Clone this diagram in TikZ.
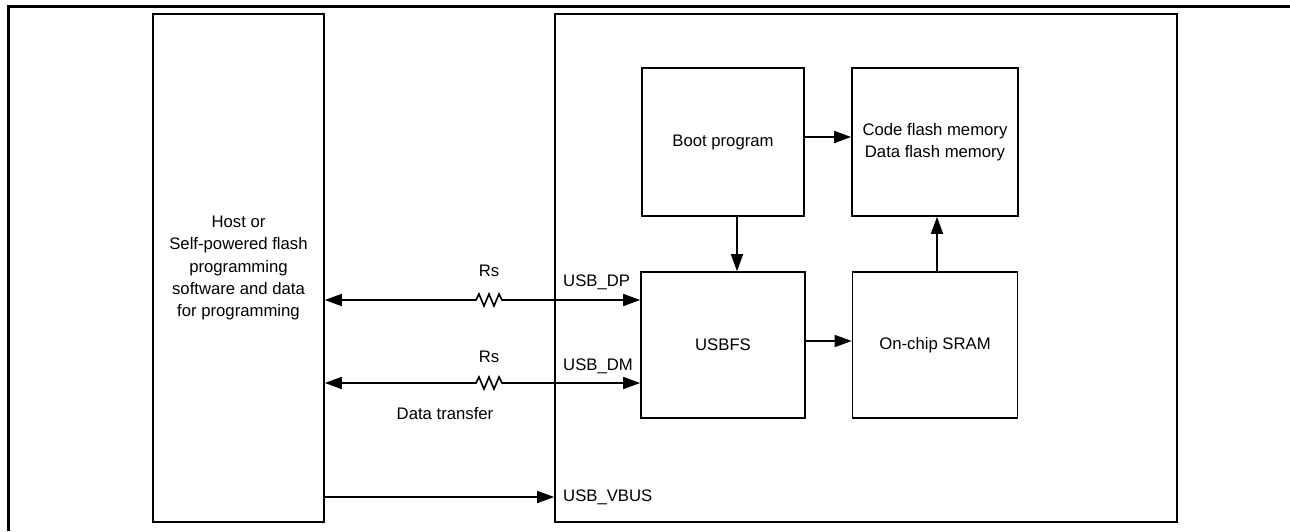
\documentclass[tikz,border=0pt]{standalone}
\usepackage{fontspec}
\setmainfont{Liberation Sans}
\usetikzlibrary{arrows.meta}

\begin{document}
\begin{tikzpicture}[x=1pt, y=-1pt, >={Triangle[length=17pt,width=12pt]},
    font=\fontsize{16.7}{22.3}\selectfont,
    box/.style={draw, line width=1.6pt, inner sep=0pt, align=center},
    wire/.style={line width=1.6pt},
    lbl/.style={inner sep=0pt}]

    \useasboundingbox (0,0) rectangle (1290,531);

    % =================================================================
    % 1. KHUNG NGOAI VA CAC TOA DO CHINH
    % =================================================================
    \draw[line width=3pt] (8.5,531) -- (8.5,6) -- (1290,6);

    \coordinate (DP) at (0,300);
    \coordinate (DM) at (0,383);
    \coordinate (VB) at (0,497);
    \coordinate (RsDP) at (476,300);
    \coordinate (RsDM) at (476,383);

    % =================================================================
    % 2. CAC KHOI
    % =================================================================
    \node[box, minimum width=171pt, minimum height=508pt] (host) at (238.5,268)
        {Host or\\Self-powered flash\\programming\\software and data\\for programming};
    \node[box, minimum width=622pt, minimum height=508pt] (chip) at (866,268) {};

    \node[box, minimum width=162pt, minimum height=148pt] (boot) at (723,142) {Boot program};
    \node[box, minimum width=166pt, minimum height=148pt] (flash) at (935,142)
        {Code flash memory\\Data flash memory};
    \node[box, minimum width=164pt, minimum height=146pt] (usbfs) at (723,345) {USBFS};
    \node[box, minimum width=165pt, minimum height=146pt] (sram) at (935,345) {On-chip SRAM};

    % =================================================================
    % 3. CAC MUI TEN BEN TRONG CHIP
    % =================================================================
    \draw[wire, ->] ([yshift=5pt]boot.east) -- ([yshift=5pt]flash.west);
    \draw[wire, ->] ([xshift=14pt]boot.south) -- ([xshift=14pt]usbfs.north);
    \draw[wire, ->] ([yshift=4pt]usbfs.east) -- ([yshift=4pt]sram.west);
    \draw[wire, ->] ([xshift=2pt]sram.north) -- ([xshift=2pt]flash.south);

    % =================================================================
    % 4. DUONG USB VOI DIEN TRO Rs
    % =================================================================
    \draw[wire, <->] (host.east |- DP) -- (RsDP) -- ++(3,-6) -- ++(5,12) -- ++(5,-12)
        -- ++(5,12) -- ++(5,-12) -- ++(3,6) -- (usbfs.west |- DP);
    \draw[wire, <->] (host.east |- DM) -- (RsDM) -- ++(3,-6) -- ++(5,12) -- ++(5,-12)
        -- ++(5,12) -- ++(5,-12) -- ++(3,6) -- (usbfs.west |- DM);
    \draw[wire, ->] (host.east |- VB) -- (chip.west |- VB);

    % =================================================================
    % 5. NHAN
    % =================================================================
    \node[lbl] (rsdp) at (489,271) {Rs};
    \node[lbl] (rsdm) at (489,357) {Rs};
    \node[lbl, anchor=base west] (lbldp) at (563,286) {USB\_DP};
    \node[lbl, anchor=base west] (lbldm) at (563,370) {USB\_DM};
    \node[lbl, anchor=base west] (lblvbus) at (563,501) {USB\_VBUS};
    \node[lbl] (xfer) at (445,414) {Data transfer};

\end{tikzpicture}
\end{document}
